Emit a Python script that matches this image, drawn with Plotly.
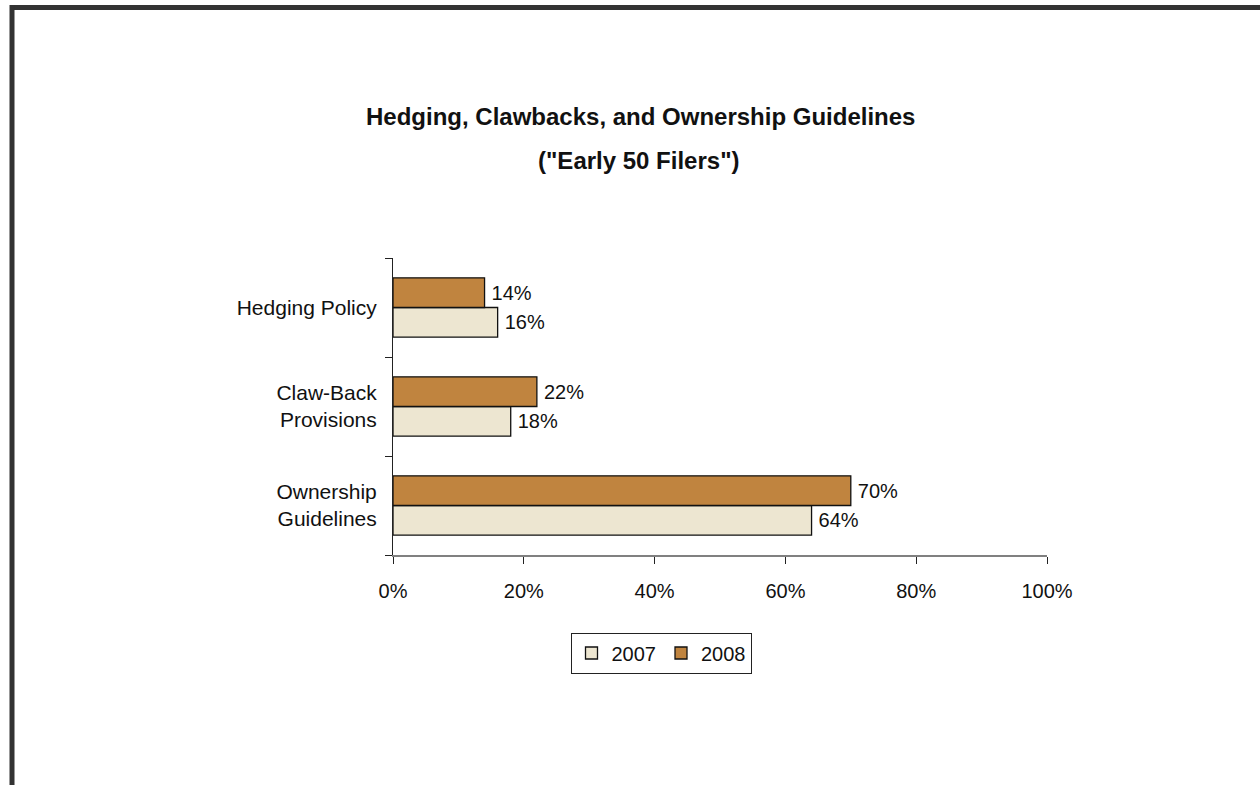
import plotly.graph_objects as go

# Survey categories, top to bottom
categories = ["Hedging Policy", "Claw-Back<br>Provisions", "Ownership<br>Guidelines"]
years = ["2007", "2008"]
values_2007 = [16, 18, 64]
values_2008 = [14, 22, 70]

x_ticks = [0, 20, 40, 60, 80, 100]
x_tick_labels = ["0%", "20%", "40%", "60%", "80%", "100%"]

colors = {"2007": "#EDE6D1", "2008": "#C0843F"}
font_family = "Liberation Sans, Arial, sans-serif"

fig = go.Figure()
for year, vals in zip(years, [values_2007, values_2008]):
    fig.add_trace(go.Bar(
        y=categories,
        x=vals,
        name=year,
        orientation="h",
        marker=dict(color=colors[year], line=dict(color="#111111", width=1.3)),
        text=[f"\u2009{v}%" for v in vals],
        textposition="outside",
        textfont=dict(size=20, color="#111111", family=font_family),
        cliponaxis=False,
    ))

# Plot area geometry (pixels)
L, R, T, B = 393, 1047, 258, 555
W, H = 1260, 785


def px(x):
    return (x - L) / (R - L)


def py(y):
    return (B - y) / (B - T)


fig.update_layout(
    width=W,
    height=H,
    margin=dict(l=L, r=W - R, t=T, b=H - B, pad=0),
    paper_bgcolor="white",
    plot_bgcolor="white",
    barmode="group",
    bargap=0.4,
    bargroupgap=0,
    font=dict(family=font_family, size=20, color="#111111"),
    showlegend=True,
    legend=dict(
        orientation="h",
        x=px(661), xanchor="center",
        y=py(653), yanchor="middle",
        bordercolor="#222222",
        borderwidth=1,
        bgcolor="white",
        font=dict(size=20, family=font_family),
        itemwidth=30,
        traceorder="normal",
    ),
    xaxis=dict(
        range=[0, 100],
        tickvals=x_ticks,
        ticktext=x_tick_labels,
        showgrid=False,
        zeroline=False,
        showline=True,
        linecolor="#808080",
        linewidth=1.5,
        ticks="outside",
        ticklen=7,
        tickcolor="#222222",
        tickfont=dict(size=20, family=font_family),
        ticklabelstandoff=10,
        fixedrange=True,
    ),
    yaxis=dict(
        categoryorder="array",
        categoryarray=categories[::-1],
        showgrid=False,
        zeroline=False,
        showline=True,
        linecolor="#222222",
        linewidth=1,
        ticks="outside",
        tickson="boundaries",
        ticklen=7,
        tickcolor="#222222",
        tickfont=dict(size=21, family=font_family),
        ticklabelstandoff=11,
        fixedrange=True,
    ),
    shapes=[
        # Dark frame along the top and left edges
        dict(type="line", xref="paper", yref="paper",
             x0=px(10), x1=px(1262), y0=py(7.5), y1=py(7.5),
             line=dict(color="#333333", width=5)),
        dict(type="line", xref="paper", yref="paper",
             x0=px(12), x1=px(12), y0=py(5), y1=py(790),
             line=dict(color="#333333", width=5)),
    ],
    annotations=[
        dict(text="<b>Hedging, Clawbacks, and Ownership Guidelines</b>",
             xref="paper", yref="paper", x=px(640), y=py(116),
             xanchor="center", yanchor="middle", showarrow=False,
             font=dict(size=24, family=font_family, color="#111111")),
        dict(text="<b>(\"Early 50 Filers\")</b>",
             xref="paper", yref="paper", x=px(639), y=py(160),
             xanchor="center", yanchor="middle", showarrow=False,
             font=dict(size=24, family=font_family, color="#111111")),
    ],
)

fig.write_html("out.html")
